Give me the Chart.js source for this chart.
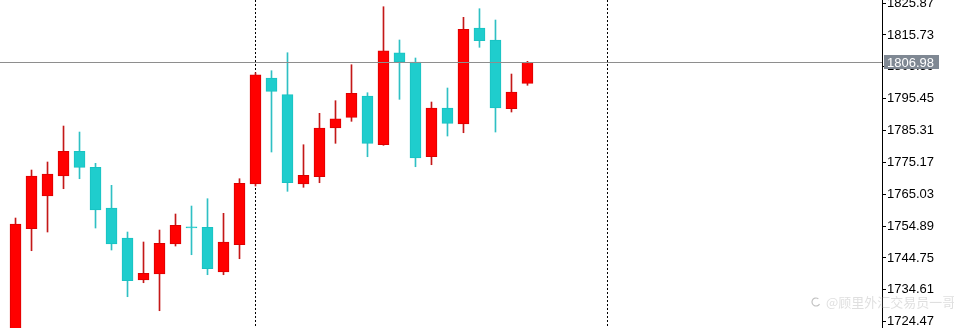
<!DOCTYPE html>
<html>
<head>
<meta charset="utf-8">
<script src="https://cdn.jsdelivr.net/npm/chart.js@4/dist/chart.umd.min.js"></script>
<style>
  html, body { margin: 0; padding: 0; background: #ffffff; }
  #wrap { position: relative; width: 954px; height: 328px; }
</style>
</head>
<body>
<div id="wrap"><canvas id="c" width="954" height="328"></canvas></div>
<script>
// ---- data ----
const opens  = [1718.00,1754.07,1764.48,1770.84,1778.70,1773.61,1760.66,1751.11,1737.74,1739.65,1749.20,1754.70,1754.51,1740.29,1748.98,1768.30,1802.03,1796.72,1768.30,1770.62,1786.12,1789.52,1796.30,1780.80,1810.08,1807.12,1776.98,1792.48,1787.39,1817.95,1814.13,1792.26,1800.35];
const highs  = [1757.47,1772.75,1775.30,1786.75,1784.84,1774.88,1767.88,1753.02,1749.84,1753.65,1758.75,1761.29,1763.62,1758.97,1769.98,1803.72,1804.35,1810.08,1780.80,1790.80,1794.81,1806.26,1797.35,1824.72,1814.13,1808.40,1794.39,1798.85,1821.35,1824.09,1820.49,1803.30,1807.35];
const lows   = [1716.00,1747.07,1753.02,1766.80,1769.98,1754.29,1747.29,1732.43,1736.88,1727.97,1748.56,1745.79,1739.43,1739.43,1744.52,1767.66,1778.48,1765.97,1767.25,1768.71,1781.25,1788.25,1776.98,1780.61,1795.25,1773.80,1774.44,1783.57,1784.62,1811.80,1784.84,1791.21,1799.71];
const closes = [1755.57,1770.84,1771.48,1778.70,1773.61,1760.02,1749.20,1737.52,1739.87,1749.42,1755.15,1754.29,1741.34,1749.84,1768.52,1803.08,1797.80,1768.71,1771.06,1786.12,1789.08,1797.16,1781.25,1810.72,1807.12,1776.57,1792.48,1787.61,1817.53,1813.90,1792.48,1797.58,1806.98];
const priceTicks = [1825.87,1815.73,1805.59,1795.45,1785.31,1775.17,1765.03,1754.89,1744.75,1734.61,1724.47];
const currentPrice = 1806.98;
const separatorBars = [15, 37];
const watermark = "@顾里外汇交易员一哥";

// ---- styling ----
const UP_BODY = '#ff0000', UP_WICK = '#c41818';
const DN_BODY = '#1fcdcd', DN_WICK = '#2fc0c4';
const FONT = '"Liberation Sans", Arial, sans-serif';

const idx = opens.map((_, i) => i);
const bodies = idx.map(i => ({ x: i, y: [opens[i], closes[i]] }));
const wicks  = idx.map(i => ({ x: i, y: [lows[i], highs[i]] }));
const isUp = idx.map(i => closes[i] >= opens[i]);

const overlay = {
  id: 'overlay',
  beforeDatasetsDraw(chart) {
    const { ctx, chartArea: a, scales: { x } } = chart;
    ctx.save();
    ctx.strokeStyle = '#000000';
    ctx.lineWidth = 1;
    ctx.setLineDash([2, 2]);
    separatorBars.forEach(b => {
      const px = Math.round(x.getPixelForValue(b)) + 0.5;
      ctx.beginPath(); ctx.moveTo(px, a.top); ctx.lineTo(px, a.bottom); ctx.stroke();
    });
    ctx.restore();
  },
  afterDatasetsDraw(chart) {
    const { ctx, chartArea: a, scales: { y } } = chart;
    ctx.save();
    const py = Math.round(y.getPixelForValue(currentPrice)) + 0.5;
    ctx.strokeStyle = '#8e8e8e';
    ctx.lineWidth = 1;
    ctx.beginPath(); ctx.moveTo(a.left, py); ctx.lineTo(a.right, py); ctx.stroke();
    ctx.restore();
  },
  afterDraw(chart) {
    const { ctx, chartArea: a, scales: { y } } = chart;
    ctx.save();
    const py = Math.round(y.getPixelForValue(currentPrice));
    ctx.fillStyle = '#7f8893';
    ctx.fillRect(a.right + 2, py - 7, 55, 14);
    ctx.fillStyle = '#ffffff';
    ctx.font = '13px ' + FONT;
    ctx.textBaseline = 'middle';
    ctx.textAlign = 'left';
    ctx.fillText(currentPrice.toFixed(2), a.right + 5, py + 1);
    // watermark
    ctx.fillStyle = 'rgba(150,150,150,0.3)';
    ctx.font = '13px "Noto Sans CJK SC", sans-serif';
    ctx.fillText(watermark, 826, 302);
    ctx.strokeStyle = 'rgba(120,120,120,0.45)';
    ctx.lineWidth = 1.2;
    ctx.beginPath(); ctx.arc(816, 302, 4, 0.5, Math.PI * 1.7); ctx.stroke();
    ctx.restore();
  }
};

new Chart(document.getElementById('c'), {
  type: 'bar',
  data: {
    datasets: [
      {
        label: 'wick',
        data: wicks,
        backgroundColor: idx.map(i => isUp[i] ? UP_WICK : DN_WICK),
        barThickness: 1,
        grouped: false,
        borderWidth: 0,
        order: 2
      },
      {
        label: 'body',
        data: bodies,
        backgroundColor: idx.map(i => isUp[i] ? UP_BODY : DN_BODY),
        borderColor: idx.map(i => isUp[i] ? '#dc0000' : '#19c2c2'),
        borderWidth: 1,
        borderSkipped: false,
        barThickness: 11,
        grouped: false,
        minBarLength: 1,
        order: 1
      }
    ]
  },
  options: {
    responsive: false,
    animation: false,
    events: [],
    layout: { padding: 0 },
    plugins: { legend: { display: false }, tooltip: { enabled: false } },
    scales: {
      x: { type: 'linear', display: false, min: -0.97, max: 54.16, offset: false },
      y: {
        position: 'right',
        min: 1722.47,
        max: 1826.86,
        grid: { drawOnChartArea: false, drawTicks: true, tickLength: 4, color: '#000000' },
        border: { display: true, color: '#000000', width: 1 },
        ticks: {
          color: '#000000',
          padding: 1,
          font: { family: FONT, size: 13 },
          callback: v => Number(v).toFixed(2)
        },
        afterBuildTicks: s => { s.ticks = priceTicks.map(v => ({ value: v })); },
        afterFit: s => { s.width = 72; s.paddingTop = 0; s.paddingBottom = 0; }
      }
    }
  },
  plugins: [overlay]
});
</script>
</body>
</html>
